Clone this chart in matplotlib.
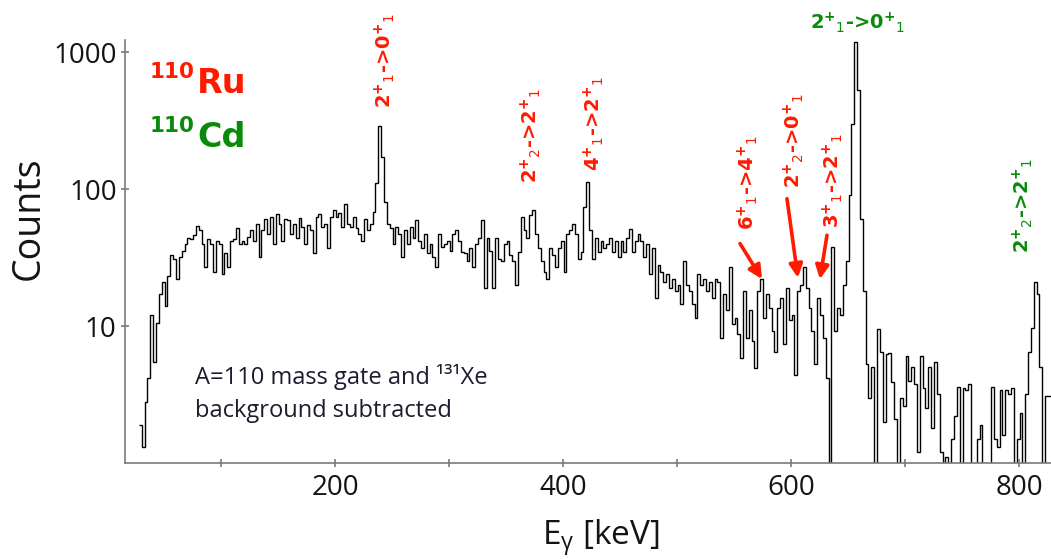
import numpy as np
import matplotlib
matplotlib.use("Agg")
import matplotlib.pyplot as plt
from matplotlib.ticker import FixedLocator, NullLocator, FixedFormatter

# Gamma-ray spectrum, 2.5 keV bins starting at 28 keV
bin_start = 28.0
bin_width = 2.5

counts_028_128 = [1.9, 1.3, 2.8, 4.2, 12.0, 5.5, 10.5, 17, 21, 14,
                  23, 33, 31, 22, 32, 35.5, 40, 44, 43, 46,
                  54, 50, 40, 27, 43, 40, 25, 42, 40, 24,
                  34, 27, 42, 43, 52, 40, 42, 40, 45, 50]
counts_128_228 = [42, 56, 32, 50, 60, 47, 62, 40, 66, 56,
                  42, 60, 59, 47, 56, 44, 61, 53, 40, 55,
                  50, 34, 62, 66, 53, 56, 37, 62, 70, 62,
                  67, 53, 78, 56, 53, 62, 52, 47, 42, 60]
counts_228_328 = [50, 56, 68, 110, 290, 170, 80, 56, 52, 40,
                  53, 47, 32, 50, 40, 53, 44, 59, 42, 37,
                  47, 34, 40, 32, 27, 47, 38, 40, 42, 35.5,
                  47, 50, 42, 35, 34, 30, 37, 27, 40, 44]
counts_328_428 = [59, 19, 44, 35.5, 19, 44, 31, 30, 40, 42,
                  33, 30, 20, 35, 63, 50, 44, 65, 70, 47,
                  37, 30, 25, 22, 37, 33, 27, 37, 42, 25,
                  47, 50, 56, 47, 31, 35, 74, 113, 50, 31]
counts_428_528 = [44, 35, 42, 37, 40, 44, 35, 42, 32, 42,
                  35, 44, 51, 35, 42, 47, 42, 32, 40, 24,
                  37, 16, 28, 25, 21, 24, 19, 22, 18, 20,
                  14.5, 30, 20, 18, 14.5, 11.5, 24, 20, 22, 18]
counts_528_628 = [21, 16, 22, 21, 8.2, 17, 13, 27, 10.3, 11.5,
                  8.7, 5.8, 18, 8.2, 13, 7.8, 4.9, 18, 22, 11.5,
                  17, 13.5, 9.2, 6.5, 13.5, 16, 7.4, 19, 11, 12,
                  4.4, 18, 20, 27, 19, 13.5, 9.2, 5.3, 16, 12]
counts_628_728 = [8.2, 4.2, 0.5, 38, 9.2, 13.5, 12, 20, 30, 90,
                  300, 1180, 530, 60, 18, 5.3, 3.0, 5.0, 0.5, 9.5,
                  6.5, 2.0, 6.3, 6.4, 3.9, 2.1, 0.5, 3.0, 2.6, 6.0,
                  4.0, 5.0, 3.8, 1.2, 6.0, 3.5, 2.5, 5.0, 1.8, 5.5]
counts_728_828 = [3.2, 1.2, 0.5, 1.1, 0.5, 1.5, 2.2, 3.6, 0.5, 3.5,
                  3.4, 3.8, 0.5, 0.5, 1.5, 1.9, 0.5, 0.5, 0.5, 3.6,
                  1.5, 1.3, 3.4, 1.6, 3.4, 3.2, 3.5, 0.5, 1.5, 2.3,
                  0.5, 3.2, 6.5, 9.7, 21, 17, 5.0, 0.5, 3.1, 3.1]

x_ticks = [200, 400, 600, 800]
x_minor_ticks = [100, 300, 500, 700]
y_ticks = [10, 100, 1000]
y_tick_labels = ["10", "100", "1000"]


def transition(ji, ni, jf, nf):
    # spin^+ then level index as a trailing subscript, e.g. 2+1->0+1
    return (f"{ji}$^{{\\mathbf{{+}}}}{{}}_{{{ni}}}$->"
            f"{jf}$^{{\\mathbf{{+}}}}{{}}_{{{nf}}}$")


# Transition labels: (text, energy keV, counts at label bottom)
ru_labels = [
    (transition(2, 1, 0, 1), 244, 390),
    (transition(2, 2, 2, 1), 372, 110),
    (transition(4, 1, 2, 1), 427, 136),
    (transition(6, 1, 4, 1), 562, 50),
    (transition(2, 2, 0, 1), 602.5, 101),
    (transition(3, 1, 2, 1), 636.5, 52),
]
# Arrows for the weak lines: (tail keV, tail counts, tip keV, tip counts)
ru_arrows = [
    (555.3, 40, 574.6, 22),
    (596.5, 85, 606.1, 22.5),
    (631.6, 46, 625.4, 22),
]
cd_label_main = (transition(2, 1, 0, 1), 658, 1330)
cd_label_side = (transition(2, 2, 2, 1), 803, 34)

RED = "#ff1a00"
GREEN = "#0a8a0a"
SPINE = "#7a7a7a"
TEXT = "#141414"
LABEL_SIZE = 14

counts = np.array(counts_028_128 + counts_128_228 + counts_228_328 + counts_328_428
                  + counts_428_528 + counts_528_628 + counts_628_728 + counts_728_828)
edges = bin_start + bin_width * np.arange(len(counts) + 1)

plt.rcParams["font.family"] = ["Open Sans", "DejaVu Sans"]

W, H = 1051, 559
fig = plt.figure(figsize=(W / 100, H / 100), dpi=100)
ax = fig.add_axes([125 / W, 1 - 463 / H, (W - 125) / W, (463 - 40) / H])


def fx(px):
    return px / W


def fy(py):
    return 1 - py / H


ax.stairs(counts, edges, baseline=None, color="black", lw=1.0)

ax.set_yscale("log")
ax.set_xlim(15.8, 828.1)
ax.set_ylim(1.0, 1225)

for side in ("top", "right"):
    ax.spines[side].set_visible(False)
for side in ("left", "bottom"):
    ax.spines[side].set_color(SPINE)
    ax.spines[side].set_linewidth(1.2)

ax.xaxis.set_major_locator(FixedLocator(x_ticks))
ax.xaxis.set_minor_locator(FixedLocator(x_minor_ticks))
ax.yaxis.set_major_locator(FixedLocator(y_ticks))
ax.yaxis.set_major_formatter(FixedFormatter(y_tick_labels))
ax.yaxis.set_minor_locator(NullLocator())
ax.tick_params(which="both", direction="inout", length=6, width=1.2, color=SPINE)
ax.tick_params(axis="x", labelsize=20, labelcolor=TEXT, pad=5)
ax.tick_params(axis="y", labelsize=20, labelcolor=TEXT, pad=3)

# Axis titles
fig.text(fx(29), fy(218), "Counts", rotation=90, ha="center", va="center",
         fontsize=27, color=TEXT)
fig.text(fx(601), fy(545), r"$\mathregular{E_{\gamma}}$ [keV]", ha="center",
         va="baseline", fontsize=24, color=TEXT)

# Nuclide legend
bold = dict(family=["DejaVu Sans"], weight="bold")
fig.text(fx(150), fy(78), "110", fontsize=15.5, color=RED, va="baseline", **bold)
fig.text(fx(197), fy(93), "Ru", fontsize=24, color=RED, va="baseline", **bold)
fig.text(fx(150), fy(132), "110", fontsize=15.5, color=GREEN, va="baseline", **bold)
fig.text(fx(197), fy(147), "Cd", fontsize=24, color=GREEN, va="baseline", **bold)

# Gate description
fig.text(fx(195), fy(384), "A=110 mass gate and \u00b9\u00b3\u00b9Xe", fontsize=17,
         color="#1c1c30", va="baseline")
fig.text(fx(195), fy(417), "background subtracted", fontsize=17,
         color="#1c1c30", va="baseline")

# Transition labels
for text, e, c in ru_labels:
    ax.text(e, c, text, rotation=90, ha="center", va="bottom", fontsize=LABEL_SIZE,
            color=RED, **bold)
for x0, y0, x1, y1 in ru_arrows:
    ax.annotate("", xy=(x1, y1), xytext=(x0, y0),
                arrowprops=dict(arrowstyle="-|>", color=RED, lw=2.6,
                                mutation_scale=20, shrinkA=0, shrinkB=0))

text, e, c = cd_label_side
ax.text(e, c, text, rotation=90, ha="center", va="bottom", fontsize=LABEL_SIZE,
        color=GREEN, **bold)
text, e, c = cd_label_main
ax.text(e, c, text, ha="center", va="bottom", fontsize=LABEL_SIZE, color=GREEN,
        clip_on=False, **bold)

fig.savefig("out.png", dpi=100)
